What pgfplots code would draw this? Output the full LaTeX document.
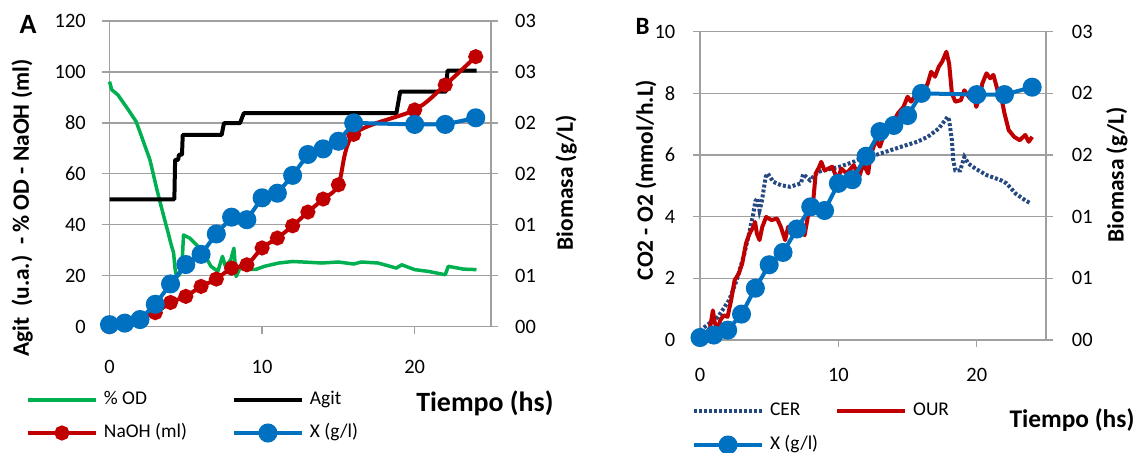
\documentclass[border=0pt]{standalone}
\usepackage{fontspec}
\setmainfont{Carlito}
\usepackage{pgfplots}
\pgfplotsset{compat=1.18}
\definecolor{cgreen}{RGB}{0,176,80}
\definecolor{cred}{RGB}{192,0,0}
\definecolor{cblue}{RGB}{0,112,192}
\definecolor{cnavy}{RGB}{38,72,128}
\definecolor{cgrid}{RGB}{160,160,160}
\pgfplotsset{
  exstyle/.style={
    scale only axis, clip=false,
    xmin=0, xmax=25,
    axis line style={cgrid, line width=1.3bp},
    tick style={cgrid, line width=1.3bp},
    major tick length=7bp,
    tick align=outside,
    ticklabel style={font=\fontsize{20.5}{24}\selectfont, inner sep=0pt},
    label style={font=\bfseries\fontsize{23.5}{26}\selectfont, inner sep=0pt},
  },
  exlegend/.style={
    legend style={draw=none, fill=none, inner sep=0pt, outer sep=0pt,
      font=\fontsize{19.5}{22}\selectfont,
      nodes={inner sep=0pt, text height=14bp, text depth=5bp},
      /tikz/every odd column/.append style={column sep=6bp}},
    legend cell align=left,
    legend image code/.code={\draw[mark repeat=2,mark phase=2,##1] plot coordinates {(0bp,0bp) (34bp,0bp) (68bp,0bp)};},
  },
}
\begin{document}
\begin{tikzpicture}
\useasboundingbox (0bp,0bp) rectangle (1137bp,453bp);
% ---------------- Panel A ----------------
\begin{axis}[exstyle, exlegend,
  at={(109.5bp,126.3bp)}, anchor=south west, width=381.5bp, height=305.7bp,
  ymin=0, ymax=120, ytick={0,20,40,60,80,100,120}, yticklabels={0,20,40,60,80,100,120},
  xtick={0,10,20}, xticklabels={0,10,20},
  axis x line*=bottom, axis y line*=left,
  ymajorgrids, grid style={cgrid, line width=1.3bp},
  yticklabel style={xshift=-16.5bp},
  xticklabel style={yshift=-26bp},
  ylabel={Agit\ \ (u.a.)\ \ - \% OD - NaOH (ml)},
  ylabel style={at={(axis description cs:-0.229,0.388)}, anchor=center},
  xlabel={Tiempo (hs)},
  xlabel style={at={(axis description cs:0.984,-0.2496)}, anchor=center, font=\bfseries\fontsize{28}{30}\selectfont},
  legend columns=2,
  legend style={at={(axis description cs:-0.219,-0.2087)}, anchor=north west, row sep=14bp,
    /tikz/every even column/.append style={column sep=45bp}},
]
\addplot[cgreen, line width=3.5bp, line join=round, forget plot] coordinates {
(0,96.2) (0.15,93) (0.55,91) (1.25,85) (1.75,80.5) (2.2,73) (2.65,65.5) (3.1,54) (3.5,44.6)
(3.85,36.7) (4.05,32) (4.2,29) (4.3,22.5) (4.4,19.5) (4.6,20.5) (4.75,24) (4.85,36) (5.25,34.8)
(5.8,31.5) (6.2,28.5) (6.65,23.7) (7.1,21.7) (7.4,27.6) (7.6,23.7) (7.95,26.3) (8.15,30.8)
(8.3,19.7) (8.55,23) (9.0,22.5) (9.6,22.5) (10.15,23.7) (11.1,25) (12.0,25.6) (13.0,25.3)
(13.9,25) (15.0,25.4) (16.0,24.6) (16.5,25.4) (17.6,25) (18.8,23) (19.15,24.3) (20.0,22.4)
(20.9,21.7) (22.0,20.4) (22.2,23.7) (23.2,22.6) (24.05,22.4)};
\addplot[black, line width=4bp, line join=round, forget plot] coordinates {
(0,50) (4.25,50) (4.3,65.5) (4.5,65.5) (4.55,67.5) (4.75,67.5) (4.8,75.3) (7.35,75.3) (7.5,79.9)
(8.55,79.9) (8.8,83.8) (18.8,83.8) (19.05,92.3) (22.05,92.3) (22.15,100.5) (24.05,100.5)};
\addplot[cred, line width=4bp, smooth, tension=0.5, mark=*, mark size=5.5bp,
  mark options={solid, fill=cred, draw=cred}, forget plot] coordinates {
(0,0) (1,1.2) (2,3.5) (3,5.5) (4,9.5) (5,11.9) (6,15.8) (7,18.7) (8,23) (9,24.3) (10,30.9)
(11,34.8) (12,39.6) (13,45) (14,50.1) (15,55.7) (16,75.5) (20,85.1) (22,94.9) (24,106)};
\addlegendimage{cgreen, line width=3.5bp}
\addlegendentry{\% OD}
\addlegendimage{black, line width=4bp}
\addlegendentry{Agit}
\addlegendimage{cred, line width=4bp, mark=*, mark size=5.5bp, mark options={solid, fill=cred}}
\addlegendentry{NaOH (ml)}
\addlegendimage{cblue, line width=4bp, mark=*, mark size=7.5bp, mark options={solid, fill=cblue}}
\addlegendentry{X (g/l)}
\end{axis}
\begin{axis}[exstyle,
  at={(109.5bp,126.3bp)}, anchor=south west, width=381.5bp, height=305.7bp,
  ymin=0, ymax=3, ytick={0,0.5,1,1.5,2,2.5,3}, yticklabels={00,01,01,02,02,03,03},
  axis y line*=right, axis x line=none,
  yticklabel style={xshift=17bp},
  ylabel={Biomasa (g/L)},
  ylabel style={at={(axis description cs:1.197,0.47)}, anchor=center},
]
\addplot[cblue, line width=4bp, mark=*, mark size=7.5bp, mark options={solid, fill=cblue, draw=cblue}] coordinates {
(0,0.02) (1,0.035) (2,0.07) (3,0.22) (4,0.42) (5,0.61) (6,0.71) (7,0.91) (8,1.075) (9,1.05)
(10,1.265) (11,1.31) (12,1.485) (13,1.69) (14,1.745) (15,1.82) (16,2.0) (20,1.985) (22,1.985) (24,2.05)};
\end{axis}
\node[font=\bfseries\fontsize{28}{30}\selectfont, inner sep=0pt] at (28bp,429bp) {A};
% ---------------- Panel B ----------------
\begin{axis}[exstyle, exlegend,
  at={(700bp,113bp)}, anchor=south west, width=346bp, height=308.3bp,
  ymin=0, ymax=10, ytick={0,2,4,6,8,10}, yticklabels={0,2,4,6,8,10},
  xtick={0,10,20}, xticklabels={0,10,20},
  axis x line*=bottom, axis y line*=left,
  ymajorgrids, grid style={cgrid, line width=1.3bp},
  yticklabel style={xshift=-17.5bp},
  xticklabel style={yshift=-21.3bp},
  ylabel={CO2 - O2 (mmol/h.L)},
  ylabel style={at={(axis description cs:-0.156,0.519)}, anchor=center},
  xlabel={Tiempo (hs)},
  xlabel style={at={(axis description cs:1.075,-0.2595)}, anchor=center, font=\bfseries\fontsize{25.5}{28}\selectfont},
  legend columns=2,
  legend style={at={(axis description cs:-0.0231,-0.1985)}, anchor=north west, row sep=15.3bp,
    /tikz/every even column/.append style={column sep=17bp}},
]
\addplot[cnavy, line width=4bp, dash pattern=on 3bp off 2bp, forget plot] coordinates {
(0,0.3) (0.5,0.48) (1.3,0.75) (2.1,1.29) (2.65,1.94) (3.2,2.8) (3.6,3.56) (3.85,4.1) (4.0,4.5)
(4.15,4.6) (4.3,4.2) (4.45,4.45) (4.75,5.3) (4.9,5.4) (5.3,5.13) (5.85,5.02) (6.5,4.97) (7.3,5.08)
(7.45,5.38) (7.95,5.18) (8.5,5.45) (9.55,5.56) (10.1,5.62) (11.1,5.78) (11.9,5.94) (12.7,6.0)
(13.8,6.16) (14.9,6.32) (15.7,6.43) (16.45,6.59) (17.25,6.86) (17.9,7.24) (18.0,7.13) (18.2,6.48)
(18.3,5.83) (18.45,5.5) (18.8,5.5) (19.1,5.94) (19.4,5.72) (19.9,5.56) (20.7,5.35) (21.75,5.18)
(22.15,5.08) (22.8,4.75) (23.5,4.53) (23.9,4.43)};
\addplot[cred, line width=4bp, line join=round, forget plot] coordinates {
(0,0.1) (0.66,0.2) (0.93,0.96) (1.06,0.58) (1.27,0.31) (1.46,0.64) (1.72,0.8) (1.99,0.75)
(2.25,1.29) (2.5,1.94) (2.8,2.15) (3.05,2.48) (3.32,3.13) (3.58,3.45) (3.85,3.67) (3.98,3.83)
(4.11,3.45) (4.3,3.24) (4.5,3.67) (4.78,3.99) (5.17,3.89) (5.57,3.94) (5.84,3.67) (6.15,3.24)
(6.37,3.67) (6.77,3.45) (7.17,3.56) (7.56,3.4) (7.83,4.1) (8.1,4.1) (8.36,5.4) (8.62,5.62)
(8.76,5.78) (9.0,5.5) (9.55,5.62) (9.95,5.18) (10.2,5.56) (10.6,5.4) (11.1,5.67) (11.5,5.29)
(11.8,5.72) (12.15,5.4) (12.3,5.94) (12.7,6.48) (13.0,6.27) (13.4,6.81) (13.8,6.92) (14.3,7.35)
(14.7,7.56) (15.0,7.89) (15.25,7.73) (15.65,8.0) (16.05,7.94) (16.45,8.32) (16.7,8.7) (16.98,8.54)
(17.25,8.86) (17.5,9.03) (17.8,9.35) (18.0,8.97) (18.2,8.0) (18.45,7.73) (18.85,7.78) (19.1,8.1)
(19.5,7.84) (19.77,8.0) (19.96,7.56) (20.2,7.89) (20.4,8.32) (20.7,8.65) (20.97,8.49) (21.2,8.6)
(21.5,8.1) (21.76,7.89) (22.0,7.35) (22.3,6.81) (22.7,6.59) (23.1,6.48) (23.5,6.65) (23.75,6.43) (24.0,6.59)};
\addlegendimage{cnavy, line width=4bp, dash pattern=on 3bp off 2bp}
\addlegendentry{CER}
\addlegendimage{cred, line width=4bp}
\addlegendentry{OUR}
\addlegendimage{cblue, line width=4bp, mark=*, mark size=7.5bp, mark options={solid, fill=cblue}}
\addlegendentry{X (g/l)}
\end{axis}
\begin{axis}[exstyle,
  at={(700bp,113bp)}, anchor=south west, width=346bp, height=308.3bp,
  ymin=0, ymax=2.5, ytick={0,0.5,1,1.5,2,2.5}, yticklabels={00,01,01,02,02,03},
  axis y line*=right, axis x line=none,
  yticklabel style={xshift=18.7bp},
  ylabel={Biomasa (g/L)},
  ylabel style={at={(axis description cs:1.205,0.535)}, anchor=center},
]
\addplot[cblue, line width=4bp, mark=*, mark size=7.5bp, mark options={solid, fill=cblue, draw=cblue}] coordinates {
(0,0.02) (1,0.04) (2,0.08) (3,0.21) (4,0.42) (5,0.61) (6,0.71) (7,0.9) (8,1.08) (9,1.05)
(10,1.27) (11,1.3) (12,1.49) (13,1.69) (14,1.74) (15,1.82) (16,2.0) (20,1.99) (22,1.99) (24,2.05)};
\end{axis}
\node[font=\bfseries\fontsize{25}{28}\selectfont, inner sep=0pt] at (642.5bp,426.5bp) {B};
\end{tikzpicture}
\end{document}
